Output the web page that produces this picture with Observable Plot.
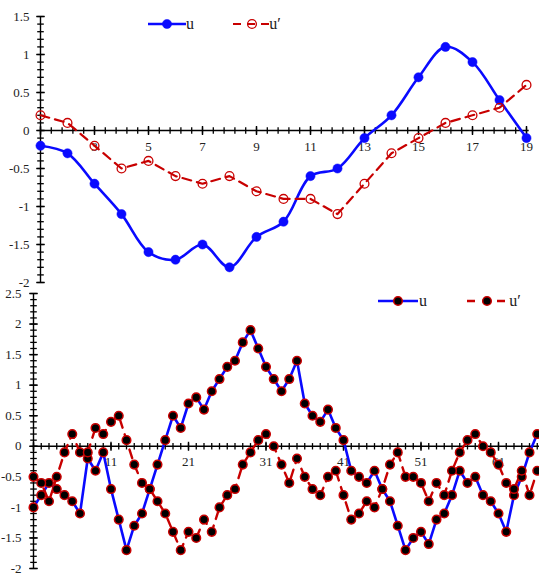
<!DOCTYPE html>
<html><head><meta charset="utf-8">
<script src="https://cdn.jsdelivr.net/npm/d3@7"></script>
<script src="https://cdn.jsdelivr.net/npm/@observablehq/plot@0.6"></script>
<style>
body{margin:0;background:#fff}
#wrap{position:relative;width:539px;height:576px;background:#fff}
#wrap svg{position:absolute;left:0}
</style>
</head><body><div id="wrap"></div>
<script>
// ---------- top panel data ----------
const topIndex = [1,2,3,4,5,6,7,8,9,10,11,12,13,14,15,16,17,18,19];
const topU     = [-0.2,-0.3,-0.7,-1.1,-1.6,-1.7,-1.5,-1.8,-1.4,-1.2,-0.6,-0.5,-0.1,0.2,0.7,1.1,0.9,0.4,-0.1];
const topUp    = [0.2,0.1,-0.2,-0.5,-0.4,-0.6,-0.7,-0.6,-0.8,-0.9,-0.9,-1.1,-0.7,-0.3,-0.1,0.1,0.2,0.3,0.6];
const topXLabels = [3,5,7,9,11,13,15,17,19];
const topYLabels = [1.5,1,0.5,0,-0.5,-1,-1.5,-2];

// ---------- bottom panel data ----------
const botU  = [-1.0,-0.8,-0.6,-0.7,-0.8,-0.9,-1.1,-0.2,-0.4,-0.1,-0.7,-1.2,-1.7,-1.3,-1.1,-0.7,-0.3,0.1,0.5,0.3,
               0.7,0.8,0.6,0.9,1.1,1.3,1.4,1.7,1.9,1.6,1.3,1.1,0.9,1.1,1.4,0.7,0.5,0.4,0.6,0.3,
               0.1,-0.4,-0.5,-0.6,-0.4,-0.7,-0.9,-1.3,-1.7,-1.5,-1.4,-1.6,-1.2,-1.1,-0.8,-0.4,-0.6,-0.5,-0.8,-0.9,
               -1.1,-1.4,-0.8,-0.5,-0.1,0.2];
const botUp = [-0.5,-0.6,-0.9,-0.5,-0.1,0.2,-0.1,-0.1,0.3,0.2,0.4,0.5,0.1,-0.3,-0.6,-0.7,-0.9,-1.1,-1.4,-1.7,
               -1.4,-1.5,-1.2,-1.4,-1.0,-0.8,-0.7,-0.3,-0.1,0.1,0.2,0.0,-0.3,-0.6,-0.2,-0.5,-0.7,-0.8,-0.5,-0.4,
               -0.8,-1.2,-1.1,-0.9,-1.0,-0.7,-0.3,-0.1,-0.5,-0.5,-0.6,-0.9,-0.6,-0.8,-0.4,-0.1,0.1,0.2,0.0,-0.1,
               -0.3,-0.6,-0.7,-0.4,-0.8,-0.4];
const botXLabels = [11,21,31,41,51,61];
const botYLabels = [2.5,2,1.5,1,0.5,0,-0.5,-1,-1.5,-2];

const seriesNames = ["u","u\u2032"];

// ---------- styles ----------
const BLUE = "#0a0aff", RED = "#c80000", FONT = "Liberation Serif, Times New Roman, serif";
const vTick = h => ({draw(ctx){ctx.moveTo(0,-h);ctx.lineTo(0,h);}});
const hTick = w => ({draw(ctx){ctx.moveTo(-w,0);ctx.lineTo(w,0);}});
const fmt = v => String(v);
const step = (a,b,s) => d3.range(0, Math.round((b-a)/s)+1).map(i => +(a+i*s).toFixed(4));

const topData = topIndex.map((x,i)=>({x, u: topU[i], up: topUp[i]}));
const botData = botU.map((u,i)=>({x: i+1, u, up: botUp[i]}));

function axisMarks(xMin, xMax, xMinor, xMajor, yMin, yMax, yMinor, yMajor, xLabels, yLabels, yLabelDx, xAxisEnd){
  return [
    Plot.ruleY([0], {x1: xMin, x2: xAxisEnd, stroke: "black", strokeWidth: 1.4}),
    Plot.ruleX([xMin], {y1: yMin, y2: yMax, stroke: "black", strokeWidth: 1.4}),
    Plot.dot(step(xMin, xMax, xMinor), {x: d=>d, y: 0, symbol: vTick(3.2), stroke: "black", fill: "none", strokeWidth: 1.3}),
    Plot.dot(step(xMin, xMax, xMajor), {x: d=>d, y: 0, symbol: vTick(4.5), stroke: "black", fill: "none", strokeWidth: 1.4}),
    Plot.dot(step(yMin, yMax, yMinor), {x: xMin, y: d=>d, symbol: hTick(3.3), stroke: "black", fill: "none", strokeWidth: 1.3}),
    Plot.dot(step(yMin, yMax, yMajor), {x: xMin, y: d=>d, symbol: hTick(4.3), stroke: "black", fill: "none", strokeWidth: 1.4}),
    Plot.text(xLabels, {x: d=>d, y: 0, text: fmt, dy: 16, fontSize: 13, fontFamily: FONT, fill: "#222"}),
    Plot.text(yLabels, {x: xMin, y: d=>d, text: fmt, textAnchor: "end", dx: yLabelDx, fontSize: 13, fontFamily: FONT, fill: "#222"})
  ];
}

const topPlot = Plot.plot({
  width: 539, height: 290,
  marginLeft: 40, marginRight: 13, marginTop: 16, marginBottom: 8,
  style: {background: "transparent", overflow: "visible"},
  x: {domain: [1,19], axis: null},
  y: {domain: [-2,1.5], axis: null},
  marks: [
    ...axisMarks(1, 19, 0.4, 2, -2, 1.5, 0.1, 0.5, topXLabels, topYLabels, -11, 19.1),
    Plot.line(topData, {x: "x", y: "u", stroke: BLUE, strokeWidth: 2.6, curve: "catmull-rom"}),
    Plot.dot(topData, {x: "x", y: "u", r: 4.6, fill: BLUE, stroke: BLUE, strokeWidth: 0.5}),
    Plot.line(topData, {x: "x", y: "up", stroke: RED, strokeWidth: 2.2, strokeDasharray: "9,6"}),
    Plot.dot(topData, {x: "x", y: "up", r: 4.4, fill: "none", stroke: RED, strokeWidth: 1.3})
  ]
});

const botPlot = Plot.plot({
  width: 539, height: 286,
  marginLeft: 33, marginRight: 2.25, marginTop: 3, marginBottom: 8,
  style: {background: "transparent", overflow: "visible"},
  x: {domain: [1,66], axis: null},
  y: {domain: [-2,2.5], axis: null},
  marks: [
    ...axisMarks(1, 66, 1, 10, -2, 2.5, 0.1, 0.5, botXLabels, botYLabels, -12, 66.3),
    Plot.line(botData, {x: "x", y: "u", stroke: BLUE, strokeWidth: 2.6}),
    Plot.line(botData, {x: "x", y: "up", stroke: RED, strokeWidth: 2.4, strokeDasharray: "9,7"}),
    Plot.dot(botData, {x: "x", y: "u", r: 4.3, fill: "black", stroke: RED, strokeWidth: 1.5}),
    Plot.dot(botData, {x: "x", y: "up", r: 4.3, fill: "black", stroke: RED, strokeWidth: 1.5})
  ]
});

const wrap = document.getElementById("wrap");
topPlot.style.top = "0px";
botPlot.style.top = "290px";
wrap.appendChild(topPlot);
wrap.appendChild(botPlot);

// ---------- legends ----------
function legend(svg, y, items){
  const g = d3.select(svg).append("g");
  items.forEach(it => {
    g.append("line").attr("x1", it.x1).attr("x2", it.x2).attr("y1", y).attr("y2", y)
      .attr("stroke", it.stroke).attr("stroke-width", it.sw).attr("stroke-dasharray", it.dash || null);
    g.append("circle").attr("cx", it.mx).attr("cy", y).attr("r", it.r)
      .attr("fill", it.fill).attr("stroke", it.mstroke).attr("stroke-width", it.msw);
    g.append("text").attr("x", it.tx).attr("y", y + 5).text(it.label)
      .attr("font-family", FONT).attr("font-size", 16).attr("fill", "#222");
  });
}
legend(topPlot, 24, [
  {x1: 148, x2: 186, mx: 167, r: 4.6, stroke: BLUE, sw: 2.6, fill: BLUE, mstroke: BLUE, msw: 0.5, tx: 190, label: seriesNames[0]},
  {x1: 233, x2: 271, mx: 252, r: 4.4, stroke: RED, sw: 2.2, dash: "8,6", fill: "none", mstroke: RED, msw: 1.3, tx: 275, label: seriesNames[1]}
]);
legend(botPlot, 11, [
  {x1: 378, x2: 418, mx: 398, r: 4.3, stroke: BLUE, sw: 2.6, fill: "black", mstroke: RED, msw: 1.5, tx: 423, label: seriesNames[0]},
  {x1: 467, x2: 511, mx: 487, r: 4.3, stroke: RED, sw: 2.4, dash: "8,7", fill: "black", mstroke: RED, msw: 1.5, tx: 515, label: seriesNames[1]}
]);
</script>
</body></html>
